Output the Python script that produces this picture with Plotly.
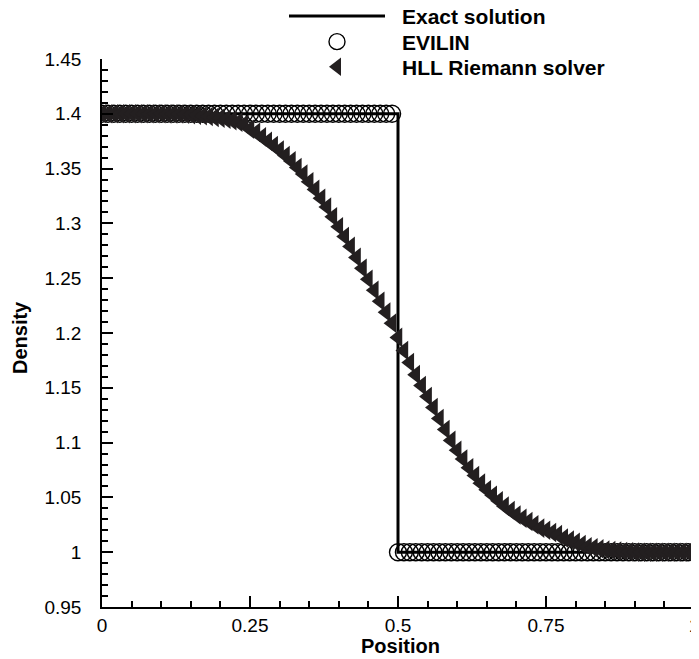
import plotly.graph_objects as go

# --- Data ---
exact_x = [0.0, 0.5, 0.5, 1.0]
exact_rho = [1.4, 1.4, 1.0, 1.0]

# cell positions used by both numerical schemes
grid_x = [i / 100 for i in range(101)]

evilin_rho = [1.4] * 50 + [1.0] * 51

hll_rho = [
    1.4000, 1.4000, 1.4000, 1.4000, 1.4000, 1.4000, 1.4000, 1.4000, 1.4000, 1.4000,
    1.4000, 1.3999, 1.3999, 1.3998, 1.3996, 1.3993, 1.3988, 1.3982, 1.3975, 1.3967,
    1.3960, 1.3950, 1.3938, 1.3924, 1.3905, 1.3860, 1.3830, 1.3790, 1.3750, 1.3710,
    1.3670, 1.3620, 1.3570, 1.3510, 1.3450, 1.3380, 1.3310, 1.3230, 1.3150, 1.3060,
    1.2970, 1.2880, 1.2790, 1.2690, 1.2590, 1.2490, 1.2390, 1.2290, 1.2190, 1.2090,
    1.1960, 1.1840, 1.1730, 1.1620, 1.1520, 1.1420, 1.1320, 1.1220, 1.1120, 1.1020,
    1.0930, 1.0850, 1.0770, 1.0700, 1.0630, 1.0570, 1.0520, 1.0470, 1.0420, 1.0380,
    1.0340, 1.0310, 1.0280, 1.0250, 1.0220, 1.0200, 1.0180, 1.0160, 1.0130, 1.0110,
    1.0090, 1.0070, 1.0050, 1.0040, 1.0030, 1.0020, 1.0015, 1.0010, 1.0006, 1.0003,
    1.0001, 1.0000, 1.0000, 1.0000, 1.0000, 1.0000, 1.0000, 1.0000, 1.0000, 1.0000,
    1.0000,
]

FONT = "Liberation Sans, Arial, sans-serif"
W, H = 691, 651  # page body adds an 8px margin
L, R, T, B = 94, 5, 51, 52
PW, PH = W - L - R, H - T - B

fig = go.Figure()

fig.add_trace(go.Scatter(
    x=exact_x, y=exact_rho, mode="lines", name="Exact solution",
    line=dict(color="black", width=3), showlegend=False,
))
# legend entry for the exact line (the long legend stroke is drawn as a shape)
fig.add_trace(go.Scatter(
    x=[None], y=[None], mode="lines", name="Exact solution",
    line=dict(color="rgba(0,0,0,0)", width=0), legend="legend",
))
fig.add_trace(go.Scatter(
    x=grid_x, y=evilin_rho, mode="markers", name="EVILIN", legend="legend2",
    marker=dict(symbol="circle-open", size=17, color="black", line=dict(width=1.4)),
))
fig.add_trace(go.Scatter(
    x=grid_x, y=hll_rho, mode="markers", name="HLL Riemann solver", legend="legend3",
    marker=dict(symbol="triangle-left", size=17, color="#231f20", line=dict(width=0)),
))

leg_row = [8, 34, 59]
fig.add_shape(type="line", xref="paper", yref="paper",
              x0=(281 - L) / PW, x1=(377 - L) / PW,
              y0=(T + PH - leg_row[0]) / PH, y1=(T + PH - leg_row[0]) / PH,
              line=dict(color="black", width=3))

axis_common = dict(
    showline=True, linecolor="black", linewidth=1.5, mirror=False,
    showgrid=False, zeroline=False,
    ticks="inside", ticklen=11, tickwidth=1.5, tickcolor="black",
    tickfont=dict(family=FONT, size=19, color="black"),
    ticklabeloverflow="allow",
)

fig.update_xaxes(
    range=[0, 1], tickvals=[0, 0.25, 0.5, 0.75, 1],
    minor=dict(dtick=0.05, ticks="inside", ticklen=6, tickwidth=1.5, tickcolor="black"),
    ticklabelstandoff=0,
    **axis_common,
)
fig.update_yaxes(
    range=[0.95, 1.45], dtick=0.05, tick0=0.95,
    minor=dict(dtick=0.01, ticks="inside", ticklen=6, tickwidth=1.5, tickcolor="black"),
    ticklabelstandoff=15,
    **axis_common,
)

title_font = dict(family=FONT, size=20, color="black", weight="bold")
fig.add_annotation(text="Position", xref="paper", yref="paper",
                   x=(392 - L) / PW, y=(T + PH - 638) / PH, showarrow=False,
                   xanchor="center", yanchor="middle", font=title_font)
fig.add_annotation(text="Density", xref="paper", yref="paper",
                   x=(12 - L) / PW, y=(T + PH - 330) / PH, showarrow=False,
                   textangle=-90, xanchor="center", yanchor="middle", font=title_font)

leg_common = dict(
    xref="container", yref="container", xanchor="left", yanchor="middle",
    x=(264) / W, bgcolor="rgba(0,0,0,0)", borderwidth=0, itemwidth=120,
    font=dict(family=FONT, size=21, color="black", weight="bold"),
)

fig.update_layout(
    width=W, height=H,
    margin=dict(l=L, r=R, t=T, b=B, autoexpand=False),
    paper_bgcolor="white", plot_bgcolor="white",
    font=dict(family=FONT, color="black"),
    showlegend=True,
    legend=dict(y=1 - leg_row[0] / H, **leg_common),
    legend2=dict(y=1 - leg_row[1] / H, **leg_common),
    legend3=dict(y=1 - leg_row[2] / H, **leg_common),
)

fig.write_html("out.html")
